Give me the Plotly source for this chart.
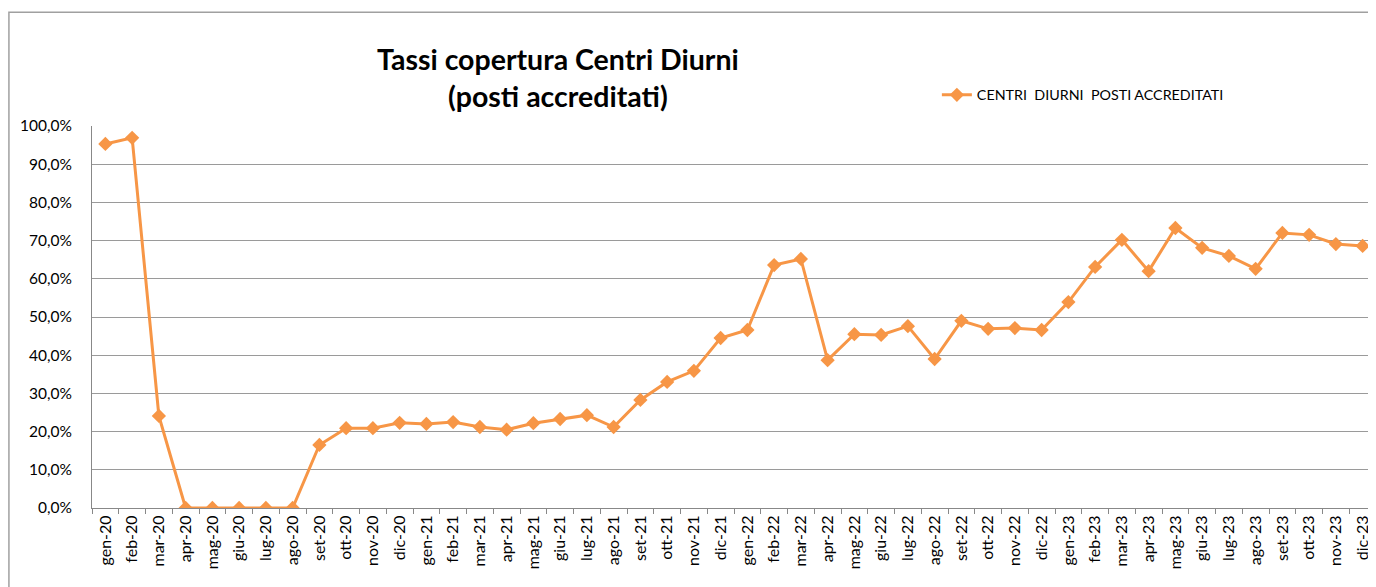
import plotly.graph_objects as go

months = ["gen", "feb", "mar", "apr", "mag", "giu", "lug", "ago", "set", "ott", "nov", "dic"]
years = ["20", "21", "22", "23"]
categories = [f"{m}-{y}" for y in years for m in months]

values = [
    95.3, 96.9, 24.1, 0.0, 0.0, 0.0, 0.0, 0.0, 16.5, 20.9, 20.9, 22.3,
    22.0, 22.5, 21.2, 20.5, 22.2, 23.3, 24.3, 21.2, 28.3, 33.0, 35.9, 44.5,
    46.6, 63.6, 65.2, 38.7, 45.5, 45.3, 47.6, 39.0, 49.0, 46.9, 47.1, 46.6,
    53.9, 63.1, 70.2, 62.0, 73.3, 68.1, 66.0, 62.6, 72.0, 71.5, 69.1, 68.6,
]

y_ticks = [0, 10, 20, 30, 40, 50, 60, 70, 80, 90, 100]
y_ticktext = [f"{v},0%" for v in y_ticks]

series_name = "CENTRI  DIURNI  POSTI ACCREDITATI"
title_text = "<b>Tassi copertura Centri Diurni<br>(posti accreditati)</b>"

orange = "#F79646"

fig = go.Figure()
fig.add_trace(go.Scatter(
    x=categories, y=values, mode="lines+markers", name=series_name,
    line=dict(color=orange, width=3),
    marker=dict(symbol="diamond", size=11, color=orange),
))

# page body has an 8px default margin: margins compensate for it
fig.update_layout(
    width=1376, height=587,
    margin=dict(l=84, r=8, t=118, b=87, autoexpand=False),
    paper_bgcolor="white", plot_bgcolor="white",
    font=dict(family="Lato, Open Sans, sans-serif", color="#000000"),
    showlegend=True,
    legend=dict(x=0.658, y=1.081, xanchor="left", yanchor="middle",
                font=dict(size=14.3), bgcolor="rgba(0,0,0,0)"),
    annotations=[dict(
        text=title_text, xref="paper", yref="paper",
        x=0.363, y=1.126, xanchor="center", yanchor="middle",
        showarrow=False, font=dict(size=28.5, color="#000000"),
    )],
    shapes=[dict(
        type="rect", xref="paper", yref="paper",
        x0=-0.0647, x1=1.05, y0=-0.3, y1=1.298,
        line=dict(color="#A0A0A0", width=1.5), fillcolor="rgba(0,0,0,0)",
        layer="below",
    )],
)

fig.update_xaxes(
    type="category", tickangle=-90, tickson="boundaries",
    ticks="outside", ticklen=5, tickcolor="#888888",
    showline=True, linecolor="#888888", linewidth=1,
    showgrid=False, tickfont=dict(size=16), automargin=False,
    range=[-0.5, len(categories) - 0.5],
)
fig.update_yaxes(
    range=[0, 100], tickvals=y_ticks, ticktext=y_ticktext,
    showgrid=True, gridcolor="#9A9A9A", gridwidth=1,
    showline=True, linecolor="#888888", linewidth=1,
    ticks="", ticklabelstandoff=16, automargin=False,
    tickfont=dict(size=15.5), zeroline=False,
)

fig.write_html("out.html")
